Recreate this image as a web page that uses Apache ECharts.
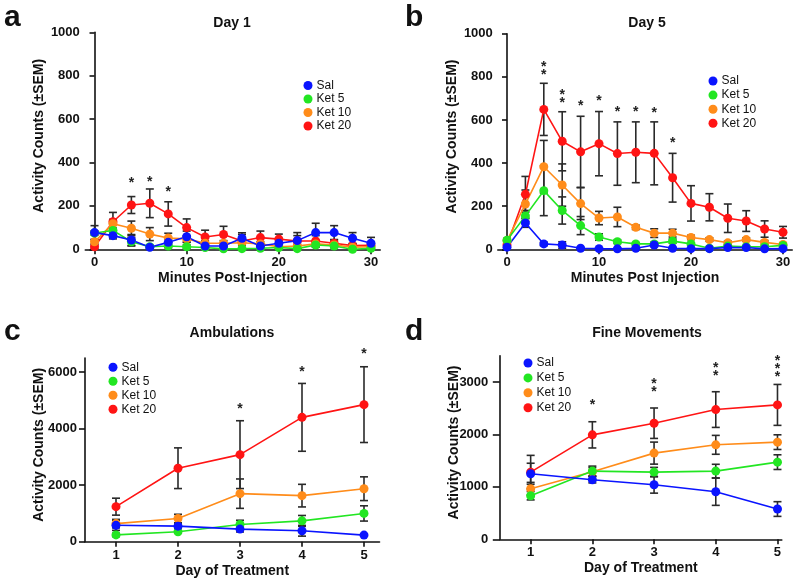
<!DOCTYPE html>
<html>
<head>
<meta charset="utf-8">
<script src="https://cdn.jsdelivr.net/npm/echarts@6/dist/echarts.min.js"></script>
<style>html,body{margin:0;padding:0;background:#fff;}#c{width:800px;height:583px;}</style>
</head>
<body>
<div id="c"></div>
<script>
// ---------- data ----------
var seriesNames = ['Sal', 'Ket 5', 'Ket 10', 'Ket 20'];
var minutes = [0, 2, 4, 6, 8, 10, 12, 14, 16, 18, 20, 22, 24, 26, 28, 30];
var days = [1, 2, 3, 4, 5];
var minuteTicks = [0, 10, 20, 30];
var dayTicks = [1, 2, 3, 4, 5];
var day1Ticks = [0, 200, 400, 600, 800, 1000];
var ambTicks = [0, 2000, 4000, 6000];
var fineTicks = [0, 1000, 2000, 3000];

// Panel a: Day 1
var d1Sal   = [77, 63, 43, 9, 32, 58, 15, 15, 51, 15, 28, 40, 77, 77, 51, 28];
var d1Ket5  = [75, 87, 35, 12, 15, 12, 8, 2, 3, 5, 8, 3, 20, 15, 0, 5];
var d1Ket10 = [35, 118, 97, 70, 52, 48, 28, 28, 30, 25, 12, 15, 25, 20, 10, 12];
var d1Ket20 = [12, 127, 204, 212, 163, 100, 57, 68, 38, 54, 47, 38, 38, 28, 17, 18];
var d1SalErr   = [32, 15, 25, 6, 15, 26, 10, 10, 25, 10, 20, 37, 43, 32, 26, 27];
var d1Ket5Err  = [10, 30, 20, 6, 8, 8, 5, 2, 3, 4, 5, 3, 10, 8, 2, 4];
var d1Ket10Err = [10, 20, 33, 30, 22, 15, 12, 12, 12, 10, 6, 8, 10, 8, 6, 6];
var d1Ket20Err = [8, 43, 39, 66, 56, 40, 31, 38, 30, 30, 23, 25, 25, 15, 10, 10];
var d1StarX = [4, 6, 8];
var d1StarY = [303, 310, 264];
var d1StarText = ['*', '*', '*'];

// Panel b: Day 5
var d5Sal   = [10, 122, 25, 20, 5, 3, 2, 5, 20, 5, 3, 3, 8, 8, 2, 3];
var d5Ket5  = [42, 155, 272, 180, 110, 57, 35, 25, 25, 38, 25, 5, 15, 12, 12, 18];
var d5Ket10 = [40, 210, 383, 298, 212, 145, 150, 102, 75, 75, 55, 45, 30, 45, 32, 22];
var d5Ket20 = [20, 255, 649, 501, 452, 490, 444, 450, 445, 332, 213, 195, 144, 131, 94, 79];
var d5SalErr   = [5, 20, 8, 15, 3, 2, 2, 3, 8, 3, 2, 2, 3, 3, 2, 2];
var d5Ket5Err  = [8, 25, 116, 63, 42, 15, 8, 6, 8, 10, 6, 3, 5, 4, 4, 5];
var d5Ket10Err = [10, 65, 122, 98, 74, 31, 45, 10, 20, 18, 10, 8, 8, 8, 8, 6];
var d5Ket20Err = [8, 83, 121, 137, 165, 149, 147, 141, 146, 113, 82, 63, 66, 48, 38, 27];
var d5StarX = [4, 6, 8, 10, 12, 14, 16, 18];
var d5StarY = [827, 695, 666, 685, 634, 638, 631, 492];
var d5StarText = ['*\n*', '*\n*', '*', '*', '*', '*', '*', '*'];

// Panel c: Ambulations
var ambSal   = [580, 550, 445, 387, 234];
var ambKet5  = [240, 352, 609, 738, 1000];
var ambKet10 = [640, 820, 1700, 1630, 1875];
var ambKet20 = [1240, 2600, 3080, 4400, 4850];
var ambSalErr   = [180, 80, 100, 190, 40];
var ambKet5Err  = [60, 50, 150, 190, 270];
var ambKet10Err = [150, 150, 520, 400, 420];
var ambKet20Err = [300, 720, 1200, 1200, 1340];
var ambStarX = [3, 4, 5];
var ambStarY = [4700, 6000, 6620];
var ambStarText = ['*', '*', '*'];

// Panel d: Fine Movements
var fineSal   = [1250, 1135, 1040, 907, 577];
var fineKet5  = [831, 1300, 1281, 1300, 1471];
var fineKet10 = [965, 1287, 1643, 1801, 1852];
var fineKet20 = [1280, 1991, 2213, 2473, 2562];
var fineSalErr   = [200, 60, 160, 260, 140];
var fineKet5Err  = [80, 95, 90, 130, 140];
var fineKet10Err = [120, 80, 210, 180, 140];
var fineKet20Err = [320, 250, 290, 340, 390];
var fineStarX = [2, 3, 4, 5];
var fineStarY = [2558, 2873, 3187, 3244];
var fineStarText = ['*', '*\n*', '*\n*', '*\n*\n*'];

// ---------- styling ----------
var colors = ['#0a14ff', '#22e622', '#ff8c1a', '#ff1414'];
var FONT = '"Liberation Sans", Arial, Helvetica, sans-serif';
var errColor = '#2a2a2a';

function zip(xs, ys) { return xs.map(function (x, i) { return [x, ys[i]]; }); }
function errData(xs, ys, es) { return xs.map(function (x, i) { return [x, ys[i] - es[i], ys[i] + es[i]]; }); }

function errRender(params, api) {
  var x = api.value(0), lo = api.value(1), hi = api.value(2);
  var t = api.coord([x, hi]), b = api.coord([x, lo]);
  var w = 4;
  var st = { stroke: errColor, lineWidth: 1.6 };
  return { type: 'group', children: [
    { type: 'line', shape: { x1: t[0], y1: t[1], x2: b[0], y2: b[1] }, style: st },
    { type: 'line', shape: { x1: t[0] - w, y1: t[1], x2: t[0] + w, y2: t[1] }, style: st },
    { type: 'line', shape: { x1: b[0] - w, y1: b[1], x2: b[0] + w, y2: b[1] }, style: st }
  ]};
}
function starSeries(idx, xs, ys, texts) {
  return {
    type: 'custom', xAxisIndex: idx, yAxisIndex: idx, z: 5, clip: false, silent: true,
    data: zip(xs, ys),
    renderItem: function (params, api) {
      var p = api.coord([api.value(0), api.value(1)]);
      return { type: 'text', x: p[0], y: p[1], style: {
        text: texts[params.dataIndex], textAlign: 'center', textVerticalAlign: 'middle',
        font: 'bold 14px ' + FONT, fill: '#222', lineHeight: 8 } };
    }
  };
}

var series = [];
var drawOrder = [3, 2, 1, 0]; // Sal drawn last (on top)
function addPanel(idx, xs, vals, errs, sx, sy, st) {
  for (var k = 0; k < 4; k++) {
    series.push({ type: 'custom', xAxisIndex: idx, yAxisIndex: idx, z: 1, silent: true,
      data: errData(xs, vals[k], errs[k]), renderItem: errRender });
  }
  drawOrder.forEach(function (k) {
    series.push({ type: 'line', name: seriesNames[k], xAxisIndex: idx, yAxisIndex: idx, z: 3,
      data: zip(xs, vals[k]), symbol: 'circle', symbolSize: 9, showSymbol: true,
      lineStyle: { color: colors[k], width: 1.6 }, itemStyle: { color: colors[k] },
      emphasis: { disabled: true }, animation: false });
  });
  series.push(starSeries(idx, sx, sy, st));
}
addPanel(0, minutes, [d1Sal, d1Ket5, d1Ket10, d1Ket20], [d1SalErr, d1Ket5Err, d1Ket10Err, d1Ket20Err], d1StarX, d1StarY, d1StarText);
addPanel(1, minutes, [d5Sal, d5Ket5, d5Ket10, d5Ket20], [d5SalErr, d5Ket5Err, d5Ket10Err, d5Ket20Err], d5StarX, d5StarY, d5StarText);
addPanel(2, days, [ambSal, ambKet5, ambKet10, ambKet20], [ambSalErr, ambKet5Err, ambKet10Err, ambKet20Err], ambStarX, ambStarY, ambStarText);
addPanel(3, days, [fineSal, fineKet5, fineKet10, fineKet20], [fineSalErr, fineKet5Err, fineKet10Err, fineKet20Err], fineStarX, fineStarY, fineStarText);

var axisLine = { show: true, lineStyle: { color: '#111', width: 1.6 } };
var labelStyle = { color: '#111', fontWeight: 'bold', fontSize: 13, fontFamily: FONT,
  formatter: function (v) { return String(v); } };
var nameStyle = { color: '#111', fontWeight: 'bold', fontSize: 14, fontFamily: FONT };

function tick(len, vals) { return { show: true, length: len, customValues: vals, lineStyle: { color: '#111', width: 1.6 } }; }

function xAx(idx, min, max, ticks, name) {
  return { type: 'value', gridIndex: idx, min: min, max: max, name: name, nameLocation: 'middle', nameGap: 22,
    nameMoveOverlap: false,
    nameTextStyle: nameStyle, axisLine: axisLine,
    axisTick: tick(5, ticks),
    axisLabel: Object.assign({}, labelStyle, { customValues: ticks, margin: 7 }),
    splitLine: { show: false } };
}
function yAx(idx, min, max, ticks, margin, tlen) {
  return { type: 'value', gridIndex: idx, min: min, max: max, name: 'Activity Counts (\u00b1SEM)', nameLocation: 'middle', nameGap: 39,
    nameMoveOverlap: false,
    nameTextStyle: Object.assign({}, nameStyle, { padding: [0, 0, 0, 10] }), axisLine: axisLine,
    axisTick: tick(tlen, ticks),
    axisLabel: Object.assign({}, labelStyle, { customValues: ticks, margin: margin }),
    splitLine: { show: false } };
}
function legend(left, top, gap) {
  return { data: seriesNames, orient: 'vertical', left: left, top: top, icon: 'circle', itemWidth: 9, itemHeight: 9,
    itemGap: gap, padding: 0, selectedMode: false,
    textStyle: { fontSize: 12, color: '#111', fontFamily: FONT, padding: [0, 0, 0, -1] } };
}
function title(text, left, top, size) {
  return { text: text, left: left, top: top, textAlign: size ? 'left' : 'center', padding: 0,
    textStyle: { fontSize: size || 14, fontWeight: 'bold', color: '#111', fontFamily: FONT } };
}

var option = {
  animation: false,
  backgroundColor: '#fff',
  title: [
    title('Day 1', 232, 16), title('Day 5', 647, 16), title('Ambulations', 232, 326), title('Fine Movements', 647, 326),
    title('a', 4, 3, 30), title('b', 405, 3, 30), title('c', 4, 317, 30), title('d', 405, 317, 30)
  ],
  legend: [legend(303.5, 79.5, 1.5), legend(708.5, 75, 2.1), legend(108.5, 361.2, 2.0), legend(523.5, 357, 2.9)],
  grid: [
    { left: 85.3, top: 32.3, width: 294.9, height: 217 },
    { left: 497.8, top: 33.7, width: 294.4, height: 215.6 },
    { left: 85, top: 358, width: 294.5, height: 183.7 },
    { left: 499.8, top: 355.7, width: 282, height: 183.6 }
  ],
  xAxis: [
    xAx(0, -1, 31, minuteTicks, 'Minutes Post-Injection'),
    xAx(1, -1, 31, minuteTicks, 'Minutes Post Injection'),
    xAx(2, 0.5, 5.25, dayTicks, 'Day of Treatment'),
    xAx(3, 0.5, 5.07, dayTicks, 'Day of Treatment')
  ],
  yAxis: [
    yAx(0, 0, 1000, day1Ticks, 5.5, 5),
    yAx(1, 0, 1000, day1Ticks, 5, 5),
    yAx(2, 0, 6500, ambTicks, 8, 6),
    yAx(3, 0, 3500, fineTicks, 11.5, 7)
  ],
  series: series
};
var chart = echarts.init(document.getElementById('c'), null, { renderer: 'canvas' });
chart.setOption(option);
</script>
</body>
</html>
